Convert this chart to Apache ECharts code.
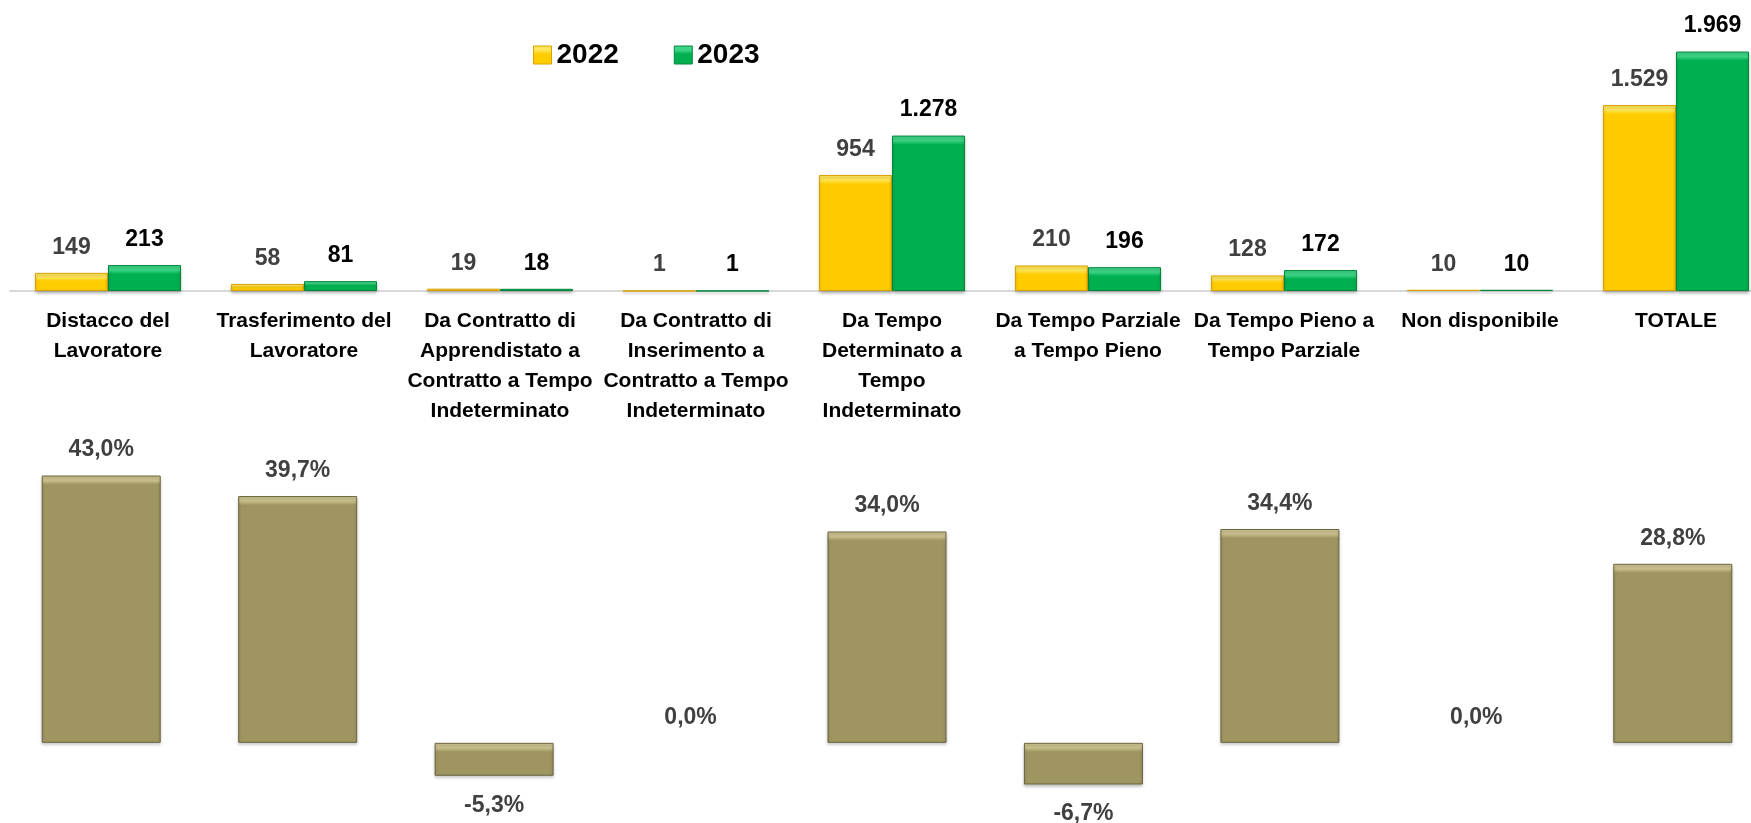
<!DOCTYPE html>
<html><head><meta charset="utf-8">
<script src="https://cdn.jsdelivr.net/npm/echarts@6/dist/echarts.min.js"></script>
<style>html,body{margin:0;padding:0;background:#fff}#c{width:1751px;height:823px}</style>
</head><body><div id="c"></div>
<script>
const categories = [
  'Distacco del\nLavoratore',
  'Trasferimento del\nLavoratore',
  'Da Contratto di\nApprendistato a\nContratto a Tempo\nIndeterminato',
  'Da Contratto di\nInserimento a\nContratto a Tempo\nIndeterminato',
  'Da Tempo\nDeterminato a\nTempo\nIndeterminato',
  'Da Tempo Parziale\na Tempo Pieno',
  'Da Tempo Pieno a\nTempo Parziale',
  'Non disponibile',
  'TOTALE'
];
const seriesNames = ['2022', '2023'];
const values2022 = [149, 58, 19, 1, 954, 210, 128, 10, 1529];
const values2023 = [213, 81, 18, 1, 1278, 196, 172, 10, 1969];
const variationPct = [43.0, 39.7, -5.3, 0.0, 34.0, -6.7, 34.4, 0.0, 28.8];

const FONT = "'Liberation Sans', Arial, sans-serif";
const TOP = {left: 10, top: 0, width: 1764, height: 291, min: 0, max: 2393};
const BOT = {left: 3, top: 432, width: 1768, height: 373, min: -10, max: 50};

const PAL = {
  y: {base: '#FFCC00', light: '#FFE658', border: '#D9A200'},
  g: {base: '#00B050', light: '#3DD585', border: '#00863C'},
  o: {base: '#9E9561', light: '#CBC28E', border: '#6C6740'}
};

function fmtInt(v) {
  return String(v).replace(/\B(?=(\d{3})+(?!\d))/g, '.');
}
function fmtPct(v) {
  return v.toFixed(1).replace('.', ',') + '%';
}
function bevel(p, hPx) {
  const t = Math.min(0.45, 9 / Math.max(hPx, 0.5));
  return new echarts.graphic.LinearGradient(0, 0, 0, 1, [
    {offset: 0, color: p.light},
    {offset: t * 0.55, color: p.light},
    {offset: t, color: p.base},
    {offset: 1, color: p.base}
  ]);
}
function items(vals, p, g) {
  const k = g.height / (g.max - g.min);
  return vals.map(v => ({
    value: v,
    itemStyle: v === 0
      ? {color: 'rgba(0,0,0,0)', borderWidth: 0, shadowBlur: 0, shadowOffsetY: 0}
      : {color: bevel(p, Math.abs(v) * k)}
  }));
}

const chart = echarts.init(document.getElementById('c'), null, {renderer: 'canvas'});

const labelBase = {show: true, fontFamily: FONT, fontWeight: 'bold', fontSize: 23};

const option = {
  animation: false,
  backgroundColor: '#ffffff',
  legend: {
    data: [
      {name: seriesNames[0], itemStyle: {color: bevel(PAL.y, 18), borderColor: PAL.y.border, borderWidth: 1}},
      {name: seriesNames[1], itemStyle: {color: bevel(PAL.g, 18), borderColor: PAL.g.border, borderWidth: 1}}
    ],
    left: 533, top: 41, padding: 0,
    icon: 'rect', itemWidth: 18, itemHeight: 18, itemGap: 55,
    textStyle: {fontFamily: FONT, fontWeight: 'bold', fontSize: 28, color: '#000'}
  },
  grid: [
    {left: TOP.left, top: TOP.top, width: TOP.width, height: TOP.height, outerBoundsMode: 'none', containLabel: false},
    {left: BOT.left, top: BOT.top, width: BOT.width, height: BOT.height, outerBoundsMode: 'none', containLabel: false}
  ],
  xAxis: [
    {
      type: 'category', gridIndex: 0, data: categories,
      axisLine: {show: true, lineStyle: {color: '#D9D9D9', width: 2}},
      axisTick: {show: false},
      axisLabel: {
        interval: 0, margin: 15, fontFamily: FONT, fontWeight: 'bold', fontSize: 21,
        lineHeight: 30, color: '#000', align: 'center', verticalAlign: 'top', hideOverlap: false
      }
    },
    {
      type: 'category', gridIndex: 1, data: categories,
      axisLine: {show: false}, axisTick: {show: false}, axisLabel: {show: false}
    }
  ],
  yAxis: [
    {type: 'value', gridIndex: 0, min: TOP.min, max: TOP.max, show: false, splitLine: {show: false}},
    {type: 'value', gridIndex: 1, min: BOT.min, max: BOT.max, show: false, splitLine: {show: false}}
  ],
  series: [
    {
      name: seriesNames[0], type: 'bar', xAxisIndex: 0, yAxisIndex: 0,
      barWidth: 73, barGap: '0%',
      data: items(values2022, PAL.y, TOP),
      itemStyle: {color: PAL.y.base, borderColor: PAL.y.border, borderWidth: 1,
        shadowBlur: 3, shadowOffsetY: 2, shadowColor: 'rgba(0,0,0,0.25)'},
      label: Object.assign({}, labelBase, {position: 'top', distance: 14, color: '#404040', formatter: p => fmtInt(p.value)})
    },
    {
      name: seriesNames[1], type: 'bar', xAxisIndex: 0, yAxisIndex: 0,
      barWidth: 73, barGap: '0%',
      data: items(values2023, PAL.g, TOP),
      itemStyle: {color: PAL.g.base, borderColor: PAL.g.border, borderWidth: 1,
        shadowBlur: 3, shadowOffsetY: 2, shadowColor: 'rgba(0,0,0,0.25)'},
      label: Object.assign({}, labelBase, {position: 'top', distance: 14, color: '#000', formatter: p => fmtInt(p.value)})
    },
    {
      name: 'Variazione %', type: 'bar', xAxisIndex: 1, yAxisIndex: 1,
      barWidth: 119,
      data: items(variationPct, PAL.o, BOT).map(d => Object.assign(d, {
        label: d.value < 0 ? {position: 'bottom', distance: 18} : {position: 'top', distance: 14}
      })),
      itemStyle: {color: PAL.o.base, borderColor: PAL.o.border, borderWidth: 1,
        shadowBlur: 3, shadowOffsetY: 2, shadowColor: 'rgba(0,0,0,0.25)'},
      label: Object.assign({}, labelBase, {color: '#404040', formatter: p => fmtPct(p.value)})
    }
  ]
};
chart.setOption(option);
</script>
</body></html>
